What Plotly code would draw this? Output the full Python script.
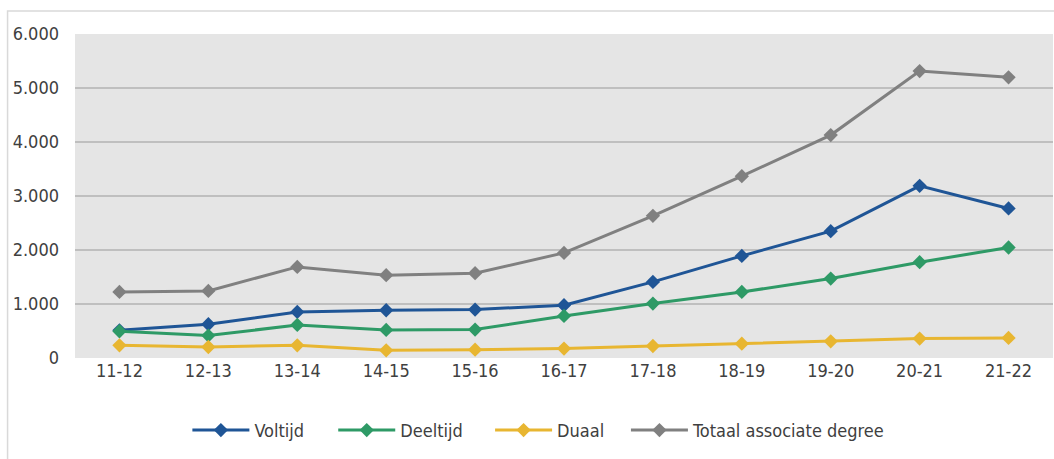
import plotly.graph_objects as go

categories = ["11-12", "12-13", "13-14", "14-15", "15-16", "16-17", "17-18", "18-19", "19-20", "20-21", "21-22"]
voltijd = [513, 625, 853, 884, 897, 977, 1409, 1891, 2348, 3188, 2769]
deeltijd = [495, 415, 612, 519, 526, 779, 1008, 1223, 1471, 1774, 2046]
duaal = [235, 204, 235, 143, 155, 174, 222, 266, 309, 359, 371]
totaal = [1223, 1242, 1687, 1533, 1570, 1946, 2632, 3368, 4128, 5314, 5197]
y_ticks = [0, 1000, 2000, 3000, 4000, 5000, 6000]
y_tick_labels = ["0", "1.000", "2.000", "3.000", "4.000", "5.000", "6.000"]

series_names = ["Voltijd", "Deeltijd", "Duaal", "Totaal associate degree"]
series_values = [voltijd, deeltijd, duaal, totaal]
series_colors = ["#1F5596", "#2E9A66", "#E8B631", "#808080"]

# layout geometry (pixels)
W, H = 1054, 459
L, R, T, B = 74.5, 0.5, 34, 101.3
PW, PH = W - L - R, H - T - B
legend_px = [187, 333, 490, 626]   # left edge of each legend entry
legend_py = 430                    # vertical centre of legend row

fig = go.Figure()
legend_ids = ["legend", "legend2", "legend3", "legend4"]
for name, vals, col, lid in zip(series_names, series_values, series_colors, legend_ids):
    fig.add_trace(go.Scatter(
        x=categories, y=vals, name=name, mode="lines+markers",
        line=dict(color=col, width=3),
        marker=dict(symbol="diamond", size=11, color=col),
        legend=lid,
    ))

font_family = "DejaVu Sans Condensed, DejaVu Sans, sans-serif"
legend_common = dict(orientation="h", xanchor="left", yanchor="middle",
                     font=dict(size=18, color="#404040"), itemwidth=57,
                     bgcolor="rgba(0,0,0,0)")
legends = {}
for lid, px in zip(legend_ids, legend_px):
    legends[lid] = dict(legend_common, x=(px - L) / PW, y=-(legend_py - (T + PH)) / PH)

fig.update_layout(
    width=W, height=H,
    margin=dict(l=L, r=R, t=T, b=B),
    paper_bgcolor="white",
    plot_bgcolor="#E5E5E5",
    font=dict(family=font_family, size=18, color="#404040"),
    showlegend=True,
    xaxis=dict(type="category", range=[-0.5, 10.5], showgrid=False, zeroline=False,
               showline=False, ticks="", tickfont=dict(size=18)),
    yaxis=dict(range=[0, 6000], tickvals=y_ticks, ticktext=y_tick_labels,
               showgrid=True, gridcolor="#BFBFBF", gridwidth=1.5, zeroline=False,
               showline=False, ticks="", ticklabelstandoff=15, tickfont=dict(size=18)),
    shapes=[dict(type="rect", xref="paper", yref="paper",
                 x0=(7 - L) / PW, x1=1.02, y0=-0.4, y1=1 + (T - 11) / PH,
                 line=dict(color="#D9D9D9", width=1.5), layer="below")],
    **legends,
)

fig.write_html("out.html", config={"displayModeBar": False},
               post_script="document.body.style.margin='0px';")
